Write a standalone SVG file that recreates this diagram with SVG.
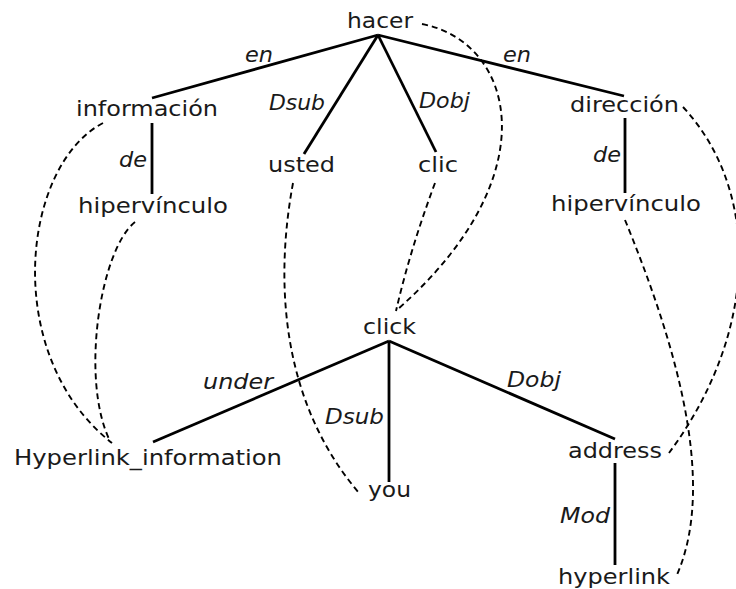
<svg xmlns="http://www.w3.org/2000/svg" width="736" height="589" viewBox="0 0 736 589">
<style>
.n{font-family:"DejaVu Sans","Liberation Sans",sans-serif;font-size:21px;fill:#1a1a1a}
.l{font-family:"DejaVu Sans","Liberation Sans",sans-serif;font-size:20.5px;font-style:italic;fill:#1a1a1a}
.e{stroke:#000;stroke-width:2.8;fill:none;stroke-linecap:butt}
.d{stroke:#000;stroke-width:1.9;fill:none;stroke-dasharray:6 4}
</style>
<rect width="736" height="589" fill="#fff"/>
<g id="connectors">
<line class="e" x1="378" y1="35" x2="152" y2="98"/>
<line class="e" x1="378" y1="35" x2="304" y2="154"/>
<line class="e" x1="378" y1="35" x2="436" y2="152"/>
<line class="e" x1="378" y1="35" x2="624" y2="96"/>
<line class="e" x1="152" y1="123" x2="152" y2="194"/>
<line class="e" x1="625" y1="118" x2="625" y2="193"/>
<line class="e" x1="389" y1="341" x2="153" y2="442"/>
<line class="e" x1="389" y1="341" x2="389" y2="482"/>
<line class="e" x1="389" y1="341" x2="615" y2="439"/>
<line class="e" x1="615" y1="463" x2="615" y2="565"/>
<path class="d" d="M103,123 C22,165 0,355 112,443"/>
<path class="d" d="M135,222 C100,250 80,380 110,441"/>
<path class="d" d="M293,183 C275,280 280,400 359,493"/>
<path class="d" d="M435,183 Q410,250 396,311"/>
<path class="d" d="M422,24 C515,42 550,175 398,309"/>
<path class="d" d="M683,107 C760,190 760,330 669,453"/>
<path class="d" d="M625,220 C670,330 720,480 676,577"/>
<text class="l" x="245" y="62" textLength="28" lengthAdjust="spacingAndGlyphs">en</text>
<text class="l" x="269" y="110" textLength="56" lengthAdjust="spacingAndGlyphs">Dsub</text>
<text class="l" x="419" y="108" textLength="51" lengthAdjust="spacingAndGlyphs">Dobj</text>
<text class="l" x="503" y="62" textLength="28" lengthAdjust="spacingAndGlyphs">en</text>
<text class="l" x="119" y="167" textLength="28" lengthAdjust="spacingAndGlyphs">de</text>
<text class="l" x="593" y="162" textLength="28" lengthAdjust="spacingAndGlyphs">de</text>
<text class="l" x="203" y="389" textLength="70" lengthAdjust="spacingAndGlyphs">under</text>
<text class="l" x="325" y="424" textLength="59" lengthAdjust="spacingAndGlyphs">Dsub</text>
<text class="l" x="507" y="387" textLength="54" lengthAdjust="spacingAndGlyphs">Dobj</text>
<text class="l" x="560" y="523" textLength="50" lengthAdjust="spacingAndGlyphs">Mod</text>
</g>
<g id="hacer"><text class="n" x="347" y="28" textLength="66" lengthAdjust="spacingAndGlyphs">hacer</text></g>
<g id="informacion"><text class="n" x="76" y="116" textLength="142" lengthAdjust="spacingAndGlyphs">información</text></g>
<g id="usted"><text class="n" x="268" y="172" textLength="67" lengthAdjust="spacingAndGlyphs">usted</text></g>
<g id="clic"><text class="n" x="418" y="172" textLength="40" lengthAdjust="spacingAndGlyphs">clic</text></g>
<g id="direccion"><text class="n" x="570" y="112" textLength="109" lengthAdjust="spacingAndGlyphs">dirección</text></g>
<g id="hipervinculo1"><text class="n" x="78" y="213" textLength="150" lengthAdjust="spacingAndGlyphs">hipervínculo</text></g>
<g id="hipervinculo2"><text class="n" x="551" y="211" textLength="150" lengthAdjust="spacingAndGlyphs">hipervínculo</text></g>
<g id="click"><text class="n" x="363" y="334" textLength="53" lengthAdjust="spacingAndGlyphs">click</text></g>
<g id="Hyperlink_information"><text class="n" x="14" y="465" textLength="268" lengthAdjust="spacingAndGlyphs">Hyperlink_information</text></g>
<g id="you"><text class="n" x="368" y="497" textLength="43" lengthAdjust="spacingAndGlyphs">you</text></g>
<g id="address"><text class="n" x="568" y="458" textLength="94" lengthAdjust="spacingAndGlyphs">address</text></g>
<g id="hyperlink"><text class="n" x="558" y="584" textLength="112" lengthAdjust="spacingAndGlyphs">hyperlink</text></g>
</svg>
